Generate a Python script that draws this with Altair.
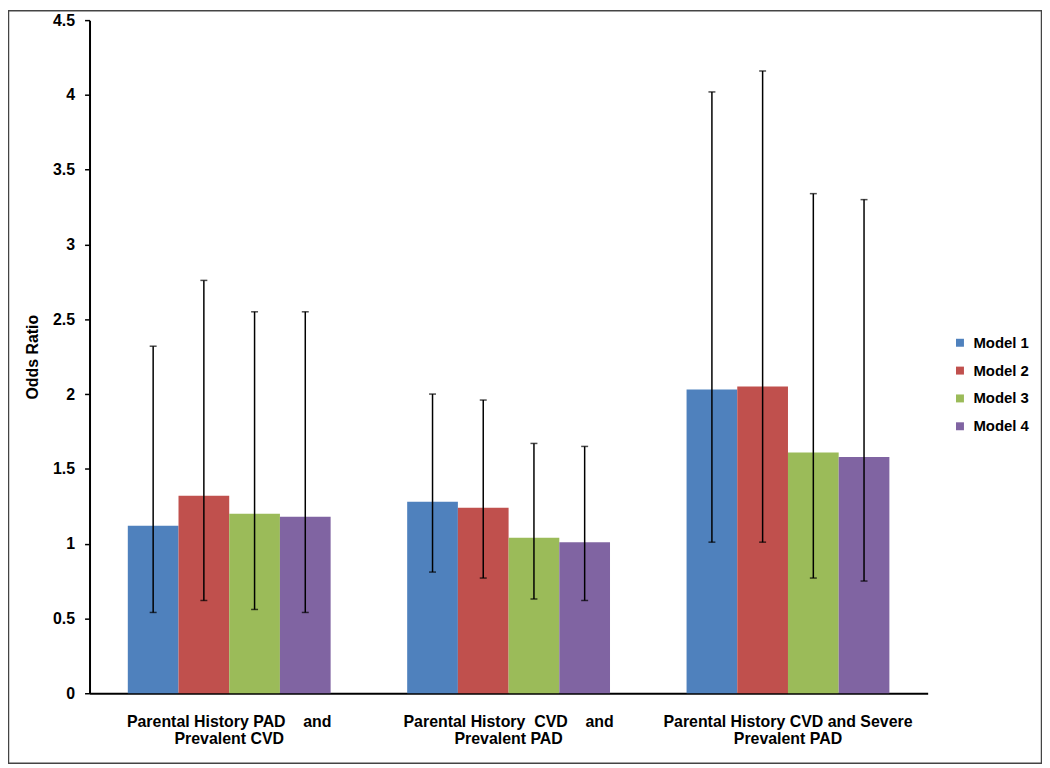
import altair as alt
import pandas as pd

categories = [
    "Parental History PAD\u00a0\u00a0\u00a0 and|Prevalent CVD",
    "Parental History\u00a0 CVD\u00a0\u00a0\u00a0 and|Prevalent PAD",
    "Parental History CVD and Severe|Prevalent PAD",
]
models = ["Model 1", "Model 2", "Model 3", "Model 4"]
colors = ["#4F81BD", "#C0504D", "#9BBB59", "#8064A2"]

# odds ratios per model, one value per category
or_m1 = [1.12, 1.28, 2.03]
or_m2 = [1.32, 1.24, 2.05]
or_m3 = [1.20, 1.04, 1.61]
or_m4 = [1.18, 1.01, 1.58]

lo_m1 = [0.54, 0.81, 1.01]
lo_m2 = [0.62, 0.77, 1.01]
lo_m3 = [0.56, 0.63, 0.77]
lo_m4 = [0.54, 0.62, 0.75]

hi_m1 = [2.32, 2.00, 4.02]
hi_m2 = [2.76, 1.96, 4.16]
hi_m3 = [2.55, 1.67, 3.34]
hi_m4 = [2.55, 1.65, 3.30]

y_ticks = [0, 0.5, 1, 1.5, 2, 2.5, 3, 3.5, 4, 4.5]

rows = []
for m, ors, los, his in zip(models, [or_m1, or_m2, or_m3, or_m4],
                            [lo_m1, lo_m2, lo_m3, lo_m4],
                            [hi_m1, hi_m2, hi_m3, hi_m4]):
    for c, o, l, h in zip(categories, ors, los, his):
        rows.append({"category": c, "model": m, "or": o, "lo": l, "hi": h})
df = pd.DataFrame(rows)

FONT = "Liberation Sans"

x_enc = alt.X(
    "category:N", sort=categories,
    scale=alt.Scale(paddingInner=0.274, paddingOuter=0.137),
    axis=alt.Axis(title=None, labelAngle=0, labelExpr="split(datum.label, '|')",
                  ticks=False, domainColor="black", domainWidth=2,
                  labelFontSize=16, labelFontWeight="bold", labelColor="black",
                  labelPadding=20, labelLineHeight=18, labelFont=FONT, labelLimit=0),
)
xo_enc = alt.XOffset("model:N", sort=models)

y_scale = alt.Scale(domain=[0, 4.5], nice=False)

base = alt.Chart(df)

bars = base.mark_bar().encode(
    x=x_enc,
    xOffset=xo_enc,
    y=alt.Y("or:Q", scale=y_scale,
            axis=alt.Axis(values=y_ticks, format="~g", title="Odds Ratio",
                          grid=False, domainColor="black", domainWidth=2,
                          tickColor="black", tickSize=5, tickWidth=1.5,
                          labelFontSize=16, labelFontWeight="bold", labelColor="black",
                          labelPadding=10, labelFont=FONT,
                          titleFont=FONT, titleFontSize=16, titleFontWeight="bold",
                          titleColor="black", titlePadding=12)),
    color=alt.Color("model:N", sort=models,
                    scale=alt.Scale(domain=models, range=colors),
                    legend=alt.Legend(title=None, orient="none", legendX=868, legendY=317,
                                      symbolType="square", symbolSize=64,
                                      symbolStrokeWidth=0, labelFontSize=15,
                                      labelFontWeight="bold", labelColor="black",
                                      labelFont=FONT, rowPadding=12, labelOffset=6)),
)

rules = base.mark_rule(color="black", strokeWidth=1.5).encode(
    x=x_enc, xOffset=xo_enc, y=alt.Y("lo:Q", scale=y_scale), y2="hi:Q"
)
caps_hi = base.mark_tick(color="black", size=7, thickness=1.5).encode(
    x=x_enc, xOffset=xo_enc, y=alt.Y("hi:Q", scale=y_scale)
)
caps_lo = base.mark_tick(color="black", size=7, thickness=1.5).encode(
    x=x_enc, xOffset=xo_enc, y=alt.Y("lo:Q", scale=y_scale)
)

border = alt.Chart(pd.DataFrame({"k": [0]})).mark_rect(
    fill="transparent", stroke="#444444", strokeWidth=1.5
).encode(x=alt.value(-81.5), x2=alt.value(957.5), y=alt.value(-9.5), y2=alt.value(747.5))

chart = alt.layer(bars, rules, caps_hi, caps_lo, border).properties(
    width=843, height=677,
    autosize=alt.AutoSizeParams(type="none"),
    padding={"left": 82, "top": 10, "right": 115, "bottom": 71},
    background="white",
).configure_view(stroke=None)

chart.save("out.html", embed_options={"renderer": "svg", "actions": False})
